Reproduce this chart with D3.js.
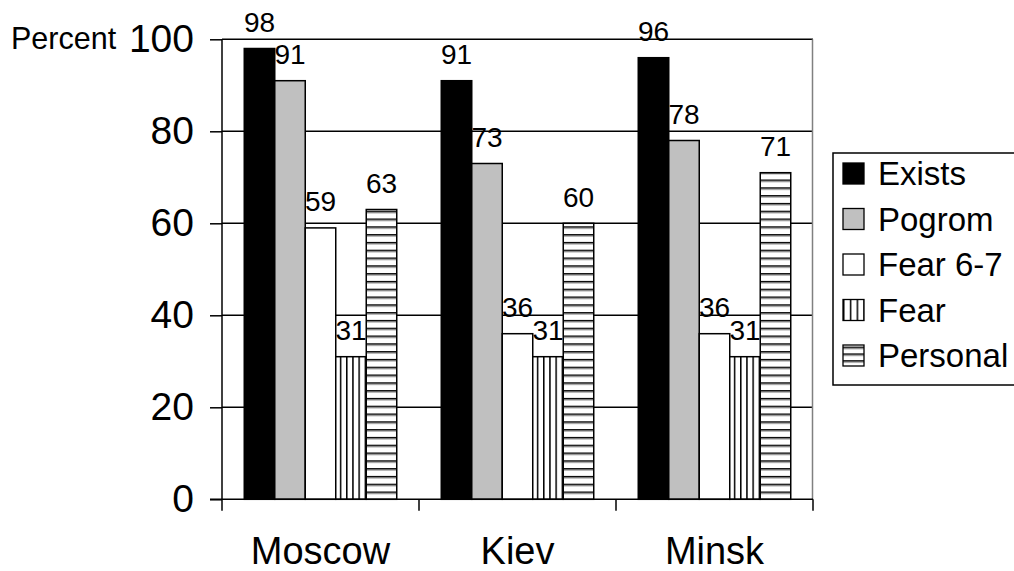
<!DOCTYPE html>
<html>
<head>
<meta charset="utf-8">
<script src="https://cdn.jsdelivr.net/npm/d3@7"></script>
<style>
  html, body { margin: 0; padding: 0; background: #fff; overflow: hidden; }
  svg { display: block; font-family: "Liberation Sans", Arial, sans-serif; }
</style>
</head>
<body>
<svg id="chart" width="1014" height="571"></svg>
<script>
// Survey results by city (percent of respondents)
const cities = ["Moscow", "Kiev", "Minsk"];
const seriesNames = ["Exists", "Pogrom", "Fear 6-7", "Fear", "Personal"];
const exists   = [98, 91, 96];
const pogrom   = [91, 73, 78];
const fear67   = [59, 36, 36];
const fear     = [31, 31, 31];
const personal = [63, 60, 71];
const yTicks   = [0, 20, 40, 60, 80, 100];

const seriesValues = [exists, pogrom, fear67, fear, personal];
const fills = ["#000000", "#c0c0c0", "#ffffff", "url(#vstripe)", "url(#hstripe)"];
const legendFills = ["#000000", "#c0c0c0", "#ffffff", "url(#vstripeL)", "url(#hstripeL)"];

const svg = d3.select("#chart");

const plot = { left: 222, right: 813, top: 39.3, bottom: 499.3 };

const x0 = d3.scaleBand().domain(cities).range([plot.left, plot.right]).paddingInner(0).paddingOuter(0);
const x1 = d3.scaleBand().domain(seriesNames).range([0, x0.bandwidth()]).paddingInner(0).paddingOuter(0.73);
const y = d3.scaleLinear().domain([0, 100]).range([plot.bottom, plot.top]);

// Hatch patterns
const defs = svg.append("defs");
function vPattern(id, w, ox) {
  const p = defs.append("pattern").attr("id", id).attr("patternUnits", "userSpaceOnUse")
    .attr("width", w).attr("height", 10).attr("x", ox).attr("y", 0);
  p.append("rect").attr("width", w).attr("height", 10).attr("fill", "#fff");
  p.append("rect").attr("x", 0).attr("width", 1.5).attr("height", 10).attr("fill", "#000");
}
function hPattern(id, h, oy) {
  const p = defs.append("pattern").attr("id", id).attr("patternUnits", "userSpaceOnUse")
    .attr("width", 10).attr("height", h).attr("x", 0).attr("y", oy);
  p.append("rect").attr("width", 10).attr("height", h).attr("fill", "#fff");
  p.append("rect").attr("y", 0).attr("width", 10).attr("height", 1.6).attr("fill", "#000");
  p.append("rect").attr("y", 1.6).attr("width", 10).attr("height", 1).attr("fill", "#9a9a9a");
}
vPattern("vstripe", 6.2, 0);
hPattern("hstripe", 7.8, plot.bottom);

// Gridlines
svg.append("g")
  .selectAll("line")
  .data(yTicks.filter(d => d > 0))
  .join("line")
  .attr("x1", plot.left).attr("x2", plot.right)
  .attr("y1", d => y(d)).attr("y2", d => y(d))
  .attr("stroke", "#000").attr("stroke-width", 1.5);

// Right edge of plot area
svg.append("line")
  .attr("x1", plot.right - 0.5).attr("x2", plot.right - 0.5)
  .attr("y1", plot.top).attr("y2", plot.bottom)
  .attr("stroke", "#808080").attr("stroke-width", 1.5);

// Bars
const groups = svg.append("g")
  .selectAll("g")
  .data(cities)
  .join("g")
  .attr("transform", d => `translate(${x0(d)},0)`);

groups.selectAll("rect")
  .data((c, ci) => seriesNames.map((s, si) => ({ s, si, v: seriesValues[si][ci] })))
  .join("rect")
  .attr("x", d => x1(d.s))
  .attr("y", d => y(d.v))
  .attr("width", x1.bandwidth())
  .attr("height", d => y(0) - y(d.v))
  .attr("fill", d => fills[d.si])
  .attr("stroke", "#000")
  .attr("stroke-width", 1.5);

// Value labels
groups.selectAll("text")
  .data((c, ci) => seriesNames.map((s, si) => ({ s, si, v: seriesValues[si][ci] })))
  .join("text")
  .attr("x", d => x1(d.s) + x1.bandwidth() / 2)
  .attr("y", d => y(d.v) - 16.5)
  .attr("text-anchor", "middle")
  .attr("font-size", 28)
  .attr("fill", "#000")
  .text(d => d.v);

// Y axis
const yAxis = d3.axisLeft(y).tickValues(yTicks).tickSize(12).tickPadding(16).tickFormat(d3.format("d"));
const gy = svg.append("g").attr("transform", `translate(${plot.left},0)`).call(yAxis);
gy.select(".domain").attr("stroke", "#000").attr("stroke-width", 1.5).attr("d", `M0,${plot.top}V${plot.bottom}`);
gy.selectAll(".tick line").attr("stroke", "#000").attr("stroke-width", 1.5);
gy.selectAll(".tick text").attr("font-size", 39).attr("font-family", "Liberation Sans, Arial, sans-serif").attr("fill", "#000");

// X axis: ticks on category boundaries
const boundaries = [plot.left].concat(cities.map(c => x0(c) + x0.bandwidth()));
svg.append("line")
  .attr("x1", plot.left - 12).attr("x2", plot.right)
  .attr("y1", plot.bottom).attr("y2", plot.bottom)
  .attr("stroke", "#000").attr("stroke-width", 1.5);
svg.append("g").selectAll("line")
  .data(boundaries)
  .join("line")
  .attr("x1", d => d).attr("x2", d => d)
  .attr("y1", plot.bottom).attr("y2", plot.bottom + 11.5)
  .attr("stroke", "#000").attr("stroke-width", 1.5);
svg.append("g").selectAll("text")
  .data(cities)
  .join("text")
  .attr("x", d => x0(d) + x0.bandwidth() / 2)
  .attr("y", 564)
  .attr("text-anchor", "middle")
  .attr("font-size", 38)
  .attr("fill", "#000")
  .text(d => d);

// Axis title
svg.append("text")
  .attr("x", 11).attr("y", 48.5)
  .attr("font-size", 30.5)
  .attr("fill", "#000")
  .text("Percent");

// Legend (box runs past the right edge of the canvas)
const legend = svg.append("g");
legend.append("rect")
  .attr("x", 833).attr("y", 153).attr("width", 200).attr("height", 232)
  .attr("fill", "#fff").attr("stroke", "#000").attr("stroke-width", 1.5);
const swX = 843, swS = 21;
vPattern("vstripeL", 6.8, swX);
hPattern("hstripeL", 6.8, 0);
const items = legend.selectAll("g.item")
  .data(seriesNames)
  .join("g").attr("class", "item")
  .attr("transform", (d, i) => `translate(0,${185 + i * 45.5})`);
items.append("rect")
  .attr("x", swX).attr("y", -22).attr("width", swS).attr("height", swS)
  .attr("fill", (d, i) => i === 4 ? "url(#hstripeL)" : legendFills[i])
  .attr("stroke", "#000").attr("stroke-width", 1.3);
items.append("text")
  .attr("x", 878).attr("y", 0)
  .attr("font-size", 33)
  .attr("fill", "#000")
  .text(d => d);
</script>
</body>
</html>
